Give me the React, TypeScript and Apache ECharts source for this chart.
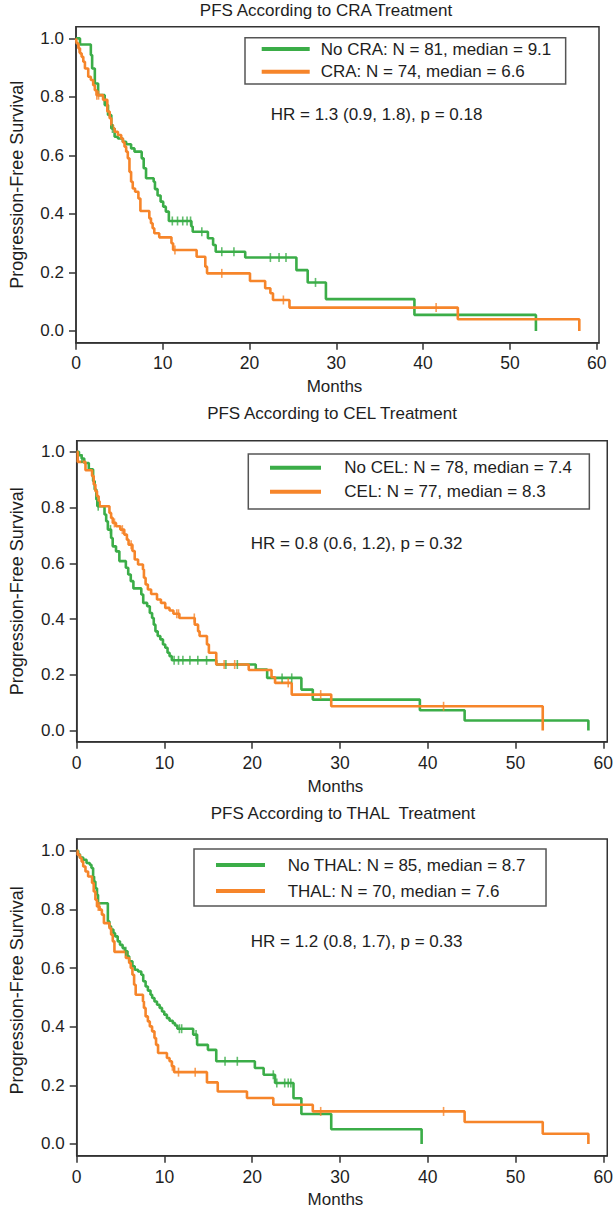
import React, { useEffect, useRef } from 'react';
import * as echarts from 'echarts';

// ---------------- DATA ----------------
const xTickValues = [0, 10, 20, 30, 40, 50, 60];
const yTickValues = [0, 0.2, 0.4, 0.6, 0.8, 1.0];

const titles = [
  'PFS According to CRA Treatment',
  'PFS According to CEL Treatment',
  'PFS According to THAL  Treatment',
];
const hrTexts = [
  'HR = 1.3 (0.9, 1.8), p = 0.18',
  'HR = 0.8 (0.6, 1.2), p = 0.32',
  'HR = 1.2 (0.8, 1.7), p = 0.33',
];
const controlNames = [
  'No CRA: N = 81, median = 9.1',
  'No CEL: N = 78, median = 7.4',
  'No THAL: N = 85, median = 8.7',
];
const treatedNames = [
  'CRA: N = 74, median = 6.6',
  'CEL: N = 77, median = 8.3',
  'THAL: N = 70, median = 7.6',
];
const xAxisName = 'Months';
const yAxisName = 'Progression-Free Survival';

// Panel 1: No CRA (green)
const noCraTime = [0, 0.46, 1.71, 1.86, 2.17, 2.55, 3.31, 3.69, 4.07, 4.45, 4.83, 5.4, 5.78, 6.35, 6.74, 7.57, 7.8, 8.07, 8.95, 9.1, 9.4, 9.75, 10.05, 10.35, 10.7, 13.3, 13.45, 15.2, 15.8, 16.1, 19.5, 25.4, 26.7, 28.8, 39.0, 53.0];
const noCraSurv = [1, 0.979, 0.943, 0.897, 0.846, 0.806, 0.772, 0.738, 0.692, 0.664, 0.658, 0.647, 0.638, 0.624, 0.613, 0.59, 0.556, 0.522, 0.51, 0.485, 0.463, 0.442, 0.425, 0.408, 0.376, 0.357, 0.339, 0.317, 0.294, 0.271, 0.251, 0.208, 0.166, 0.109, 0.055, 0];
const noCraCensored = [4.2, 11.1, 11.7, 12.3, 12.8, 13.2, 14.5, 16.8, 18.2, 22.4, 23.4, 24.2, 27.6];

// Panel 1: CRA (orange)
const craTime = [0, 0.08, 0.27, 0.46, 0.65, 0.84, 1.03, 1.41, 1.71, 1.98, 2.17, 2.36, 3.12, 3.61, 3.88, 4.07, 4.26, 4.45, 4.83, 5.21, 5.4, 5.59, 5.78, 5.97, 6.16, 6.35, 6.54, 6.81, 7.19, 7.42, 8.45, 8.64, 8.83, 9.02, 9.59, 11.0, 11.19, 13.9, 14.9, 15.1, 20.05, 21.8, 22.4, 22.7, 24.6, 44.0, 58.0];
const craSurv = [1, 0.983, 0.966, 0.949, 0.937, 0.92, 0.897, 0.869, 0.858, 0.84, 0.823, 0.806, 0.79, 0.75, 0.727, 0.704, 0.692, 0.681, 0.67, 0.658, 0.645, 0.63, 0.613, 0.59, 0.544, 0.51, 0.487, 0.476, 0.453, 0.41, 0.385, 0.368, 0.351, 0.334, 0.32, 0.3, 0.277, 0.254, 0.22, 0.197, 0.171, 0.146, 0.129, 0.106, 0.08, 0.04, 0];
const craCensored = [0.35, 2.4, 2.6, 11.4, 16.8, 23.9, 41.5];

// Panel 2: No CEL (green)
const noCelTime = [0, 0.26, 0.56, 0.86, 1.38, 1.87, 2.05, 2.24, 2.35, 3.17, 3.36, 3.55, 3.92, 4.1, 4.48, 4.86, 5.6, 5.87, 6.16, 6.46, 7.36, 7.58, 8.03, 8.33, 8.59, 8.78, 8.97, 9.23, 9.53, 9.83, 10.09, 10.35, 10.58, 10.84, 15.9, 20.4, 21.7, 25.6, 26.9, 39.1, 44.2, 58.3];
const noCelSurv = [1, 0.988, 0.976, 0.96, 0.937, 0.895, 0.865, 0.829, 0.805, 0.775, 0.751, 0.721, 0.691, 0.661, 0.643, 0.608, 0.584, 0.56, 0.536, 0.51, 0.488, 0.458, 0.446, 0.422, 0.404, 0.38, 0.356, 0.339, 0.327, 0.309, 0.297, 0.279, 0.267, 0.252, 0.237, 0.219, 0.189, 0.147, 0.111, 0.073, 0.036, 0];
const noCelCensored = [0.6, 2.45, 3.85, 11.1, 11.6, 12.1, 12.9, 13.8, 14.8, 17.0, 18.3, 23.4, 24.5];

// Panel 2: CEL (orange)
const celTime = [0, 0.12, 1.0, 1.75, 1.94, 2.13, 2.31, 2.5, 2.61, 3.73, 3.92, 4.11, 4.48, 4.97, 5.42, 5.72, 5.91, 6.35, 6.61, 6.99, 7.55, 7.66, 7.85, 8.11, 8.48, 9.15, 9.6, 10.09, 10.58, 11.02, 11.7, 13.45, 13.83, 14.0, 14.84, 15.06, 15.9, 19.6, 22.2, 22.6, 24.5, 29.0, 53.1];
const celSurv = [1, 0.964, 0.934, 0.913, 0.883, 0.859, 0.841, 0.823, 0.805, 0.781, 0.763, 0.745, 0.733, 0.721, 0.703, 0.685, 0.667, 0.644, 0.614, 0.596, 0.578, 0.548, 0.524, 0.506, 0.49, 0.47, 0.458, 0.44, 0.431, 0.419, 0.404, 0.38, 0.356, 0.339, 0.309, 0.279, 0.237, 0.217, 0.191, 0.171, 0.129, 0.087, 0];
const celCensored = [4.3, 5.2, 6.2, 11.4, 11.6, 13.4, 16.8, 18.0, 24.1, 27.8, 41.8];

// Panel 3: No THAL (green)
const noThalTime = [0, 0.18, 0.37, 0.74, 1.12, 1.49, 1.68, 1.87, 1.98, 2.13, 2.31, 2.43, 3.55, 3.73, 3.92, 4.18, 4.37, 4.67, 4.93, 5.23, 5.49, 5.79, 5.98, 6.35, 6.61, 6.99, 7.36, 7.58, 7.85, 8.11, 8.41, 8.6, 8.86, 9.15, 9.45, 9.72, 9.98, 10.28, 10.58, 10.95, 11.21, 11.47, 13.27, 13.72, 14.95, 15.9, 20.3, 21.3, 22.6, 24.7, 25.6, 29.0, 39.3];
const noThalSurv = [1, 0.988, 0.977, 0.969, 0.958, 0.952, 0.941, 0.912, 0.895, 0.872, 0.85, 0.821, 0.759, 0.742, 0.731, 0.719, 0.708, 0.691, 0.679, 0.668, 0.657, 0.64, 0.623, 0.606, 0.594, 0.588, 0.577, 0.555, 0.537, 0.523, 0.509, 0.498, 0.486, 0.475, 0.464, 0.452, 0.441, 0.429, 0.42, 0.412, 0.404, 0.393, 0.373, 0.338, 0.321, 0.282, 0.259, 0.236, 0.208, 0.156, 0.102, 0.05, 0];
const noThalCensored = [5.6, 11.7, 11.96, 13.6, 16.9, 18.3, 22.4, 22.8, 23.7, 24.1, 24.4];

// Panel 3: THAL (orange)
const thalTime = [0, 0.11, 0.37, 0.56, 0.74, 1.0, 1.3, 1.75, 1.94, 2.13, 2.31, 2.61, 2.87, 3.1, 3.73, 3.92, 4.11, 4.3, 5.6, 5.98, 6.16, 6.35, 6.54, 6.72, 7.55, 7.66, 7.85, 8.11, 8.33, 8.59, 8.86, 9.04, 9.27, 10.28, 10.58, 10.84, 11.1, 14.84, 16.07, 19.4, 22.4, 26.9, 44.2, 53.1, 58.3];
const thalSurv = [1, 0.986, 0.975, 0.963, 0.946, 0.929, 0.912, 0.89, 0.861, 0.833, 0.81, 0.799, 0.782, 0.753, 0.736, 0.714, 0.691, 0.655, 0.634, 0.617, 0.6, 0.577, 0.543, 0.509, 0.486, 0.464, 0.435, 0.418, 0.401, 0.384, 0.361, 0.338, 0.31, 0.293, 0.282, 0.265, 0.245, 0.21, 0.179, 0.157, 0.134, 0.111, 0.075, 0.035, 0];
const thalCensored = [2.45, 2.6, 10.9, 11.6, 13.5, 27.8, 41.8];

// ---------------- STYLE / LAYOUT ----------------
const FONT = "'Liberation Sans', Arial, Helvetica, sans-serif";
const TXT = '#1e1e1e';
const AX = '#333333';
const GREEN = '#3bad48';
const ORANGE = '#f6852a';

const layouts = [
  {
    grid: { left: 71, top: 26.7, width: 528, height: 316 },
    xMax: 60.27,
    title: { x: 326, y: 10.5 },
    hr: { x: 270.7, y: 114.3 },
    legend: { left: 245, top: 37.7, padding: [1.3, 14.4, 2.3, 16.7], gap: 2.7, w: 48, textPad: 6 },
    xLabelMargin: 11, xNameGap: 35.5, xNamePad: 6, yNameGap: 50, yNamePad: 0,
  },
  {
    grid: { left: 71.7, top: 440.7, width: 539, height: 301 },
    xMax: 60.45,
    title: { x: 332, y: 413.3 },
    hr: { x: 250.7, y: 543.3 },
    legend: { left: 248.3, top: 454, padding: [3.7, 17.3, 7.3, 21.7], gap: 4, w: 51, textPad: 18.3 },
    xLabelMargin: 12.5, xNameGap: 36.5, xNamePad: 13, yNameGap: 50.7, yNamePad: 0,
  },
  {
    grid: { left: 71.7, top: 839, width: 539, height: 316.7 },
    xMax: 60.45,
    title: { x: 343, y: 813.3 },
    hr: { x: 250.7, y: 941.7 },
    legend: { left: 194, top: 849, padding: [6, 20.2, 5, 22], gap: 6, w: 49, textPad: 17.7 },
    xLabelMargin: 12, xNameGap: 34.8, xNamePad: 13, yNameGap: 50.7, yNamePad: 14,
  },
];

const curves = [
  { control: [noCraTime, noCraSurv, noCraCensored], treated: [craTime, craSurv, craCensored] },
  { control: [noCelTime, noCelSurv, noCelCensored], treated: [celTime, celSurv, celCensored] },
  { control: [noThalTime, noThalSurv, noThalCensored], treated: [thalTime, thalSurv, thalCensored] },
];

function survAt(times: number[], surv: number[], t: number) {
  let v = surv[0];
  for (let i = 0; i < times.length; i++) {
    if (times[i] <= t) v = surv[i];
  }
  return v;
}

function lineSeries(name: string, times: number[], surv: number[], color: string, idx: number) {
  return {
    type: 'line',
    name,
    xAxisIndex: idx,
    yAxisIndex: idx,
    step: 'end',
    data: times.map((t, i) => [t, surv[i]]),
    showSymbol: false,
    symbol: 'none',
    color,
    itemStyle: { color },
    lineStyle: { color, width: 2.6 },
    silent: true,
    z: 3,
  };
}

function censorSeries(times: number[], surv: number[], cens: number[], color: string, idx: number) {
  return {
    type: 'scatter',
    xAxisIndex: idx,
    yAxisIndex: idx,
    symbol: 'rect',
    symbolSize: [1.6, 9],
    itemStyle: { color },
    data: cens.map((t) => [t, survAt(times, surv, t)]),
    silent: true,
    z: 4,
  };
}

function buildOption() {
  const grid: any[] = [];
  const xAxis: any[] = [];
  const yAxis: any[] = [];
  const legend: any[] = [];
  const series: any[] = [];
  const graphic: any[] = [];

  layouts.forEach((L, i) => {
    grid.push({
      ...L.grid,
      show: true,
      borderColor: AX,
      borderWidth: 1.5,
      backgroundColor: 'transparent',
      containLabel: false,
    });
    xAxis.push({
      type: 'value',
      gridIndex: i,
      min: 0,
      max: L.xMax,
      name: xAxisName,
      nameLocation: 'middle',
      nameGap: L.xNameGap,
      nameTextStyle: { fontSize: 17, color: TXT, fontFamily: FONT, padding: [0, L.xNamePad, 0, 0] },
      axisLine: { show: true, onZero: false, lineStyle: { color: AX, width: 1.5 } },
      axisTick: { show: true, inside: false, length: 7, lineStyle: { color: AX, width: 1.5 }, customValues: xTickValues },
      axisLabel: { show: true, margin: L.xLabelMargin, fontSize: 17.5, color: TXT, fontFamily: FONT, customValues: xTickValues, formatter: (v: number) => String(v) },
      splitLine: { show: false },
    });
    yAxis.push({
      type: 'value',
      gridIndex: i,
      min: -0.04,
      max: 1.04,
      name: yAxisName,
      nameLocation: 'middle',
      nameGap: L.yNameGap,
      nameTextStyle: { fontSize: 18, color: TXT, fontFamily: FONT, padding: [0, 0, 0, L.yNamePad] },
      axisLine: { show: true, onZero: false, lineStyle: { color: AX, width: 1.5 } },
      axisTick: { show: true, inside: false, length: 7, lineStyle: { color: AX, width: 1.5 }, customValues: yTickValues },
      axisLabel: { show: true, margin: 12, fontSize: 17, color: TXT, fontFamily: FONT, customValues: yTickValues, formatter: (v: number) => v.toFixed(1) },
      splitLine: { show: false },
    });
    legend.push({
      data: [controlNames[i], treatedNames[i]],
      orient: 'vertical',
      left: L.legend.left,
      top: L.legend.top,
      padding: L.legend.padding,
      itemGap: L.legend.gap,
      itemWidth: L.legend.w,
      itemHeight: 4,
      icon: 'rect',
      selectedMode: false,
      borderColor: '#555555',
      borderWidth: 1.5,
      backgroundColor: '#ffffff',
      textStyle: { fontSize: 17, lineHeight: 20, color: TXT, fontFamily: FONT, padding: [0, 0, 0, L.legend.textPad] },
    });
    const c = curves[i];
    series.push(lineSeries(controlNames[i], c.control[0], c.control[1], GREEN, i));
    series.push(lineSeries(treatedNames[i], c.treated[0], c.treated[1], ORANGE, i));
    series.push(censorSeries(c.control[0], c.control[1], c.control[2], GREEN, i));
    series.push(censorSeries(c.treated[0], c.treated[1], c.treated[2], ORANGE, i));

    graphic.push({
      type: 'text',
      x: L.title.x,
      y: L.title.y,
      silent: true,
      style: { text: titles[i], fill: TXT, fontSize: 17, fontFamily: FONT, textAlign: 'center', align: 'center', textVerticalAlign: 'middle', verticalAlign: 'middle' },
    });
    graphic.push({
      type: 'text',
      x: L.hr.x,
      y: L.hr.y,
      silent: true,
      style: { text: hrTexts[i], fill: TXT, fontSize: 17, fontFamily: FONT, textAlign: 'left', align: 'left', textVerticalAlign: 'middle', verticalAlign: 'middle' },
    });
  });

  return {
    animation: false,
    backgroundColor: '#ffffff',
    textStyle: { fontFamily: FONT },
    grid,
    xAxis,
    yAxis,
    legend,
    series,
    graphic,
  };
}

export default function App() {
  const ref = useRef<HTMLDivElement>(null);
  useEffect(() => {
    document.body.style.margin = '0';
    const chart = echarts.init(ref.current as HTMLDivElement, null, { renderer: 'svg' });
    chart.setOption(buildOption() as any);
    return () => chart.dispose();
  }, []);
  return <div ref={ref} style={{ width: 616, height: 1209 }} />;
}
